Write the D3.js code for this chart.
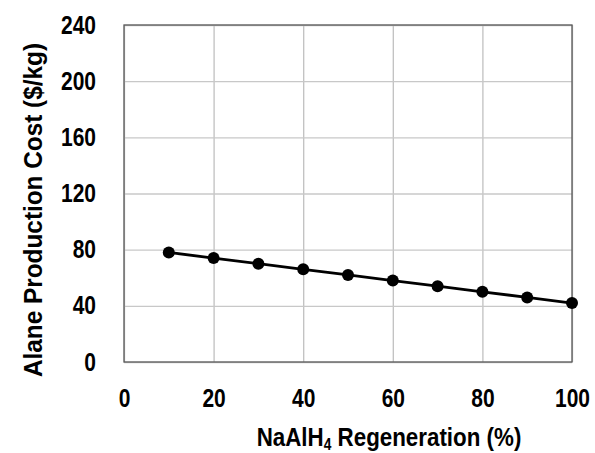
<!DOCTYPE html>
<html>
<head>
<meta charset="utf-8">
<script src="https://cdn.jsdelivr.net/npm/d3@7"></script>
<style>
  body { margin: 0; background: #fff; }
  svg text { font-family: "Liberation Sans", Arial, sans-serif; font-weight: bold; fill: #000; }
</style>
</head>
<body>
<svg id="chart"></svg>
<script>
var regeneration = [10, 20, 30, 40, 50, 60, 70, 80, 90, 100];
var productionCost = [78, 74, 70, 66, 62, 58, 54, 50, 46, 42];
var xTicks = [0, 20, 40, 60, 80, 100];
var yTicks = [0, 40, 80, 120, 160, 200, 240];

var width = 595;
var height = 453;
var margin = { top: 25, right: 23, bottom: 91, left: 124 };
var chartWidth = width - margin.left - margin.right;
var chartHeight = height - margin.top - margin.bottom;
var narrow = 0.84; // squeeze to look like a narrow bold face

var svg = d3.select("#chart").attr("width", width).attr("height", height);
var g = svg.append("g").attr("transform", `translate(${margin.left},${margin.top})`);

var xScale = d3.scaleLinear().domain([0, 100]).range([0, chartWidth]);
var yScale = d3.scaleLinear().domain([0, 240]).range([chartHeight, 0]);

// gridlines
g.append("g")
    .call(d3.axisBottom(xScale).tickValues(xTicks).tickSize(-chartHeight).tickFormat(""))
    .attr("transform", `translate(0,${chartHeight})`)
    .call(a => a.select(".domain").remove())
    .selectAll("line").attr("stroke", "#c0c0c0").attr("stroke-width", 1.3);

g.append("g")
    .call(d3.axisLeft(yScale).tickValues(yTicks).tickSize(-chartWidth).tickFormat(""))
    .call(a => a.select(".domain").remove())
    .selectAll("line").attr("stroke", "#c8c8c8").attr("stroke-width", 1.3);

// frame
g.append("rect")
    .attr("width", chartWidth)
    .attr("height", chartHeight)
    .attr("fill", "none")
    .attr("stroke", "#595959")
    .attr("stroke-width", 1.3);

// tick labels
var xAxis = g.append("g")
    .attr("transform", `translate(0,${chartHeight})`)
    .call(d3.axisBottom(xScale).tickValues(xTicks).tickSize(0).tickPadding(27));
xAxis.select(".domain").remove();
xAxis.selectAll("text")
    .style("font-size", "25px")
    .attr("transform", `scale(${narrow},1)`);

var yAxis = g.append("g")
    .call(d3.axisLeft(yScale).tickValues(yTicks).tickSize(0).tickPadding(28));
yAxis.select(".domain").remove();
yAxis.selectAll("text")
    .style("font-size", "25px")
    .attr("x", 0)
    .attr("transform", `translate(-28,0) scale(${narrow},1)`);

// line and markers
var points = regeneration.map((d, i) => ({ x: d, y: productionCost[i] }));

g.append("path")
    .datum(points)
    .attr("fill", "none")
    .attr("stroke", "#000")
    .attr("stroke-width", 2.8)
    .attr("d", d3.line().x(d => xScale(d.x)).y(d => yScale(d.y)));

g.selectAll(".dot")
    .data(points)
    .enter().append("circle")
    .attr("class", "dot")
    .attr("cx", d => xScale(d.x))
    .attr("cy", d => yScale(d.y))
    .attr("r", 6)
    .attr("fill", "#000");

// axis titles
var xTitle = svg.append("text")
    .attr("transform", `translate(389,446) scale(0.86,1)`)
    .attr("text-anchor", "middle")
    .style("font-size", "26px");
xTitle.append("tspan").text("NaAlH");
xTitle.append("tspan").attr("dy", 4).style("font-size", "16px").text("4");
xTitle.append("tspan").attr("dy", -4).text(" Regeneration (%)");

svg.append("text")
    .attr("transform", `translate(42,210) rotate(-90)`)
    .attr("text-anchor", "middle")
    .attr("textLength", 334)
    .attr("lengthAdjust", "spacingAndGlyphs")
    .style("font-size", "26px")
    .text("Alane Production Cost ($/kg)");
</script>
</body>
</html>
